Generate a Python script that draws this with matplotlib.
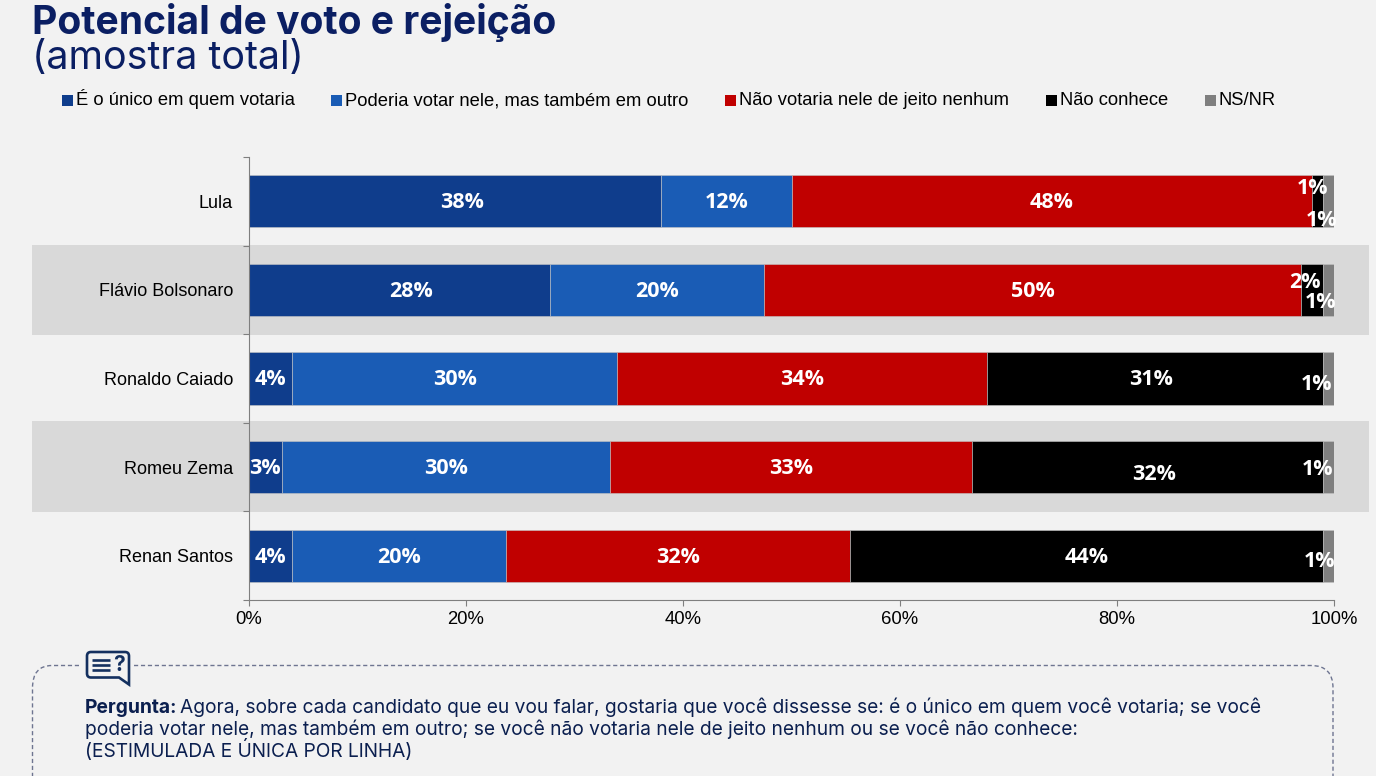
import matplotlib
matplotlib.use("Agg")
import matplotlib.pyplot as plt
from matplotlib.patches import Rectangle, PathPatch
from matplotlib.lines import Line2D
from matplotlib.path import Path

candidates = ["Lula", "Flávio Bolsonaro", "Ronaldo Caiado", "Romeu Zema", "Renan Santos"]
series_names = ["É o único em quem votaria", "Poderia votar nele, mas também em outro",
                "Não votaria nele de jeito nenhum", "Não conhece", "NS/NR"]
unico = [38.0, 27.7, 4.0, 3.0, 4.0]
poderia = [12.0, 19.8, 29.9, 30.3, 19.7]
nao_votaria = [48.0, 49.5, 34.1, 33.3, 31.7]
nao_conhece = [1.0, 2.0, 31.0, 32.4, 43.6]
ns_nr = [1.0, 1.0, 1.0, 1.0, 1.0]
labels_unico = ["38%", "28%", "4%", "3%", "4%"]
labels_poderia = ["12%", "20%", "30%", "30%", "20%"]
labels_nao_votaria = ["48%", "50%", "34%", "33%", "32%"]
labels_nao_conhece = ["1%", "2%", "31%", "32%", "44%"]
labels_ns_nr = ["1%", "1%", "1%", "1%", "1%"]
x_ticks = [0, 20, 40, 60, 80, 100]
x_tick_labels = ["0%", "20%", "40%", "60%", "80%", "100%"]

colors = ["#0F3D8C", "#1A5CB5", "#C00000", "#000000", "#7F7F7F"]
NAVY = "#0B1F63"
BG = "#F2F2F2"
W, H = 1376, 776

fig = plt.figure(figsize=(W / 100, H / 100), dpi=100, facecolor=BG)

pg = fig.add_axes([0, 0, 1, 1], zorder=0)
pg.set_xlim(0, W); pg.set_ylim(H, 0); pg.axis("off")
pg.add_patch(Rectangle((32, 245), 1337, 90, fc="#D9D9D9", ec="none"))
pg.add_patch(Rectangle((32, 421), 1337, 91, fc="#D9D9D9", ec="none"))

pg.text(32, 34, "Potencial de voto e rejeição", family="Inter", weight="bold", fontsize=28.1,
        color=NAVY, va="baseline")
pg.text(32, 69, "(amostra total)", family="Inter", fontsize=28.4, color=NAVY, va="baseline")

leg_sq = [62, 331, 725, 1046, 1205]
for sx, name, c in zip(leg_sq, series_names, colors):
    pg.add_patch(Rectangle((sx, 95), 10.5, 10.5, fc=c, ec="none"))
    pg.text(sx + 14, 105, name, family="Liberation Sans", fontsize=13.25, color="black", va="baseline")

bx = Path([(79, 665.5), (52, 665.5), (32.5, 665.5), (32.5, 688), (32.5, 780)],
          [Path.MOVETO, Path.LINETO, Path.CURVE3, Path.CURVE3, Path.LINETO])
pg.add_patch(PathPatch(bx, fc="none", ec="#6E7591", lw=1, ls=(0, (3, 2))))
bx2 = Path([(134, 665.5), (1311, 665.5), (1333, 665.5), (1333, 688), (1333, 780)],
           [Path.MOVETO, Path.LINETO, Path.CURVE3, Path.CURVE3, Path.LINETO])
pg.add_patch(PathPatch(bx2, fc="none", ec="#6E7591", lw=1, ls=(0, (3, 2))))

ICON = "#14305F"
bubble = Path([(91, 652), (125, 652), (129, 652), (129, 656), (129, 684.5), (119, 677.5),
               (91, 677.5), (87, 677.5), (87, 673.5), (87, 656), (87, 652), (91, 652), (91, 652)],
              [Path.MOVETO, Path.LINETO, Path.CURVE3, Path.CURVE3, Path.LINETO, Path.LINETO,
               Path.LINETO, Path.CURVE3, Path.CURVE3, Path.LINETO, Path.CURVE3, Path.CURVE3,
               Path.CLOSEPOLY])
pg.add_patch(PathPatch(bubble, fc=BG, ec=ICON, lw=1.9))
for yy in (660, 665, 670):
    pg.add_line(Line2D([92, 110], [yy, yy], color=ICON, lw=1.9, solid_capstyle="butt"))
pg.text(118.5, 665, "?", family="Inter", weight="bold", fontsize=15, color=ICON, ha="center", va="center")

q_font = dict(family="Inter", fontsize=13.8, color="#0B1F4F", va="baseline")
pg.text(85, 713, "Pergunta:", weight="bold", **q_font)
pg.text(180, 713, "Agora, sobre cada candidato que eu vou falar, gostaria que você dissesse se: é o único em quem você votaria; se você", **q_font)
pg.text(85, 735, "poderia votar nele, mas também em outro; se você não votaria nele de jeito nenhum ou se você não conhece:", **q_font)
pg.text(85, 757, "(ESTIMULADA E ÚNICA POR LINHA)", **q_font)

ax = fig.add_axes([249 / W, 1 - 600 / H, (1334 - 249) / W, (600 - 157) / H], zorder=1)
ax.patch.set_alpha(0)
data = [unico, poderia, nao_votaria, nao_conhece, ns_nr]
labs = [labels_unico, labels_poderia, labels_nao_votaria, labels_nao_conhece, labels_ns_nr]
nudge = {(0, 0): (5, 0), (0, 1): (8.5, 0),
         (3, 0): (-4, 10), (4, 0): (-5, -13), (3, 1): (-5, 6.5), (4, 1): (-5.5, -8),
         (3, 2): (-3, 0), (3, 3): (5, -4), (4, 2): (-8.5, -3), (4, 3): (-8, -1), (4, 4): (-6.5, -3)}
ypos = list(range(len(candidates)))
left = [0.0] * len(candidates)
for s, (vals, lb, c) in enumerate(zip(data, labs, colors)):
    ax.barh(ypos, vals, left=left, height=0.587, color=c, edgecolor="#C4C4C4", linewidth=0.4)
    for r, v in enumerate(vals):
        dx, dy = nudge.get((s, r), (0, 0))
        ax.annotate(lb[r], (left[r] + v / 2, r), xytext=(dx, dy - 1), textcoords="offset points",
                    ha="center", va="center", color="white", family="Open Sans", weight="bold",
                    fontsize=15.5, zorder=5, annotation_clip=False)
    left = [a + b for a, b in zip(left, vals)]

ax.set_xlim(0, 100)
ax.set_ylim(4.5, -0.5)
ax.set_yticks(ypos, candidates, family="Liberation Sans", fontsize=13)
ax.set_yticks([-0.5, 0.5, 1.5, 2.5, 3.5, 4.5], minor=True)
ax.tick_params(axis="y", which="major", length=0, pad=11.5)
ax.tick_params(axis="y", which="minor", length=4.5, color="#7F7F7F", width=0.8)
ax.set_xticks(x_ticks, x_tick_labels, family="Liberation Sans", fontsize=13.3)
ax.tick_params(axis="x", length=4.5, color="#7F7F7F", width=0.8, pad=3.5)
for sp in ("top", "right"):
    ax.spines[sp].set_visible(False)
for sp in ("left", "bottom"):
    ax.spines[sp].set_color("#7F7F7F")
    ax.spines[sp].set_linewidth(0.8)

fig.savefig("out.png", dpi=100, facecolor=BG)
